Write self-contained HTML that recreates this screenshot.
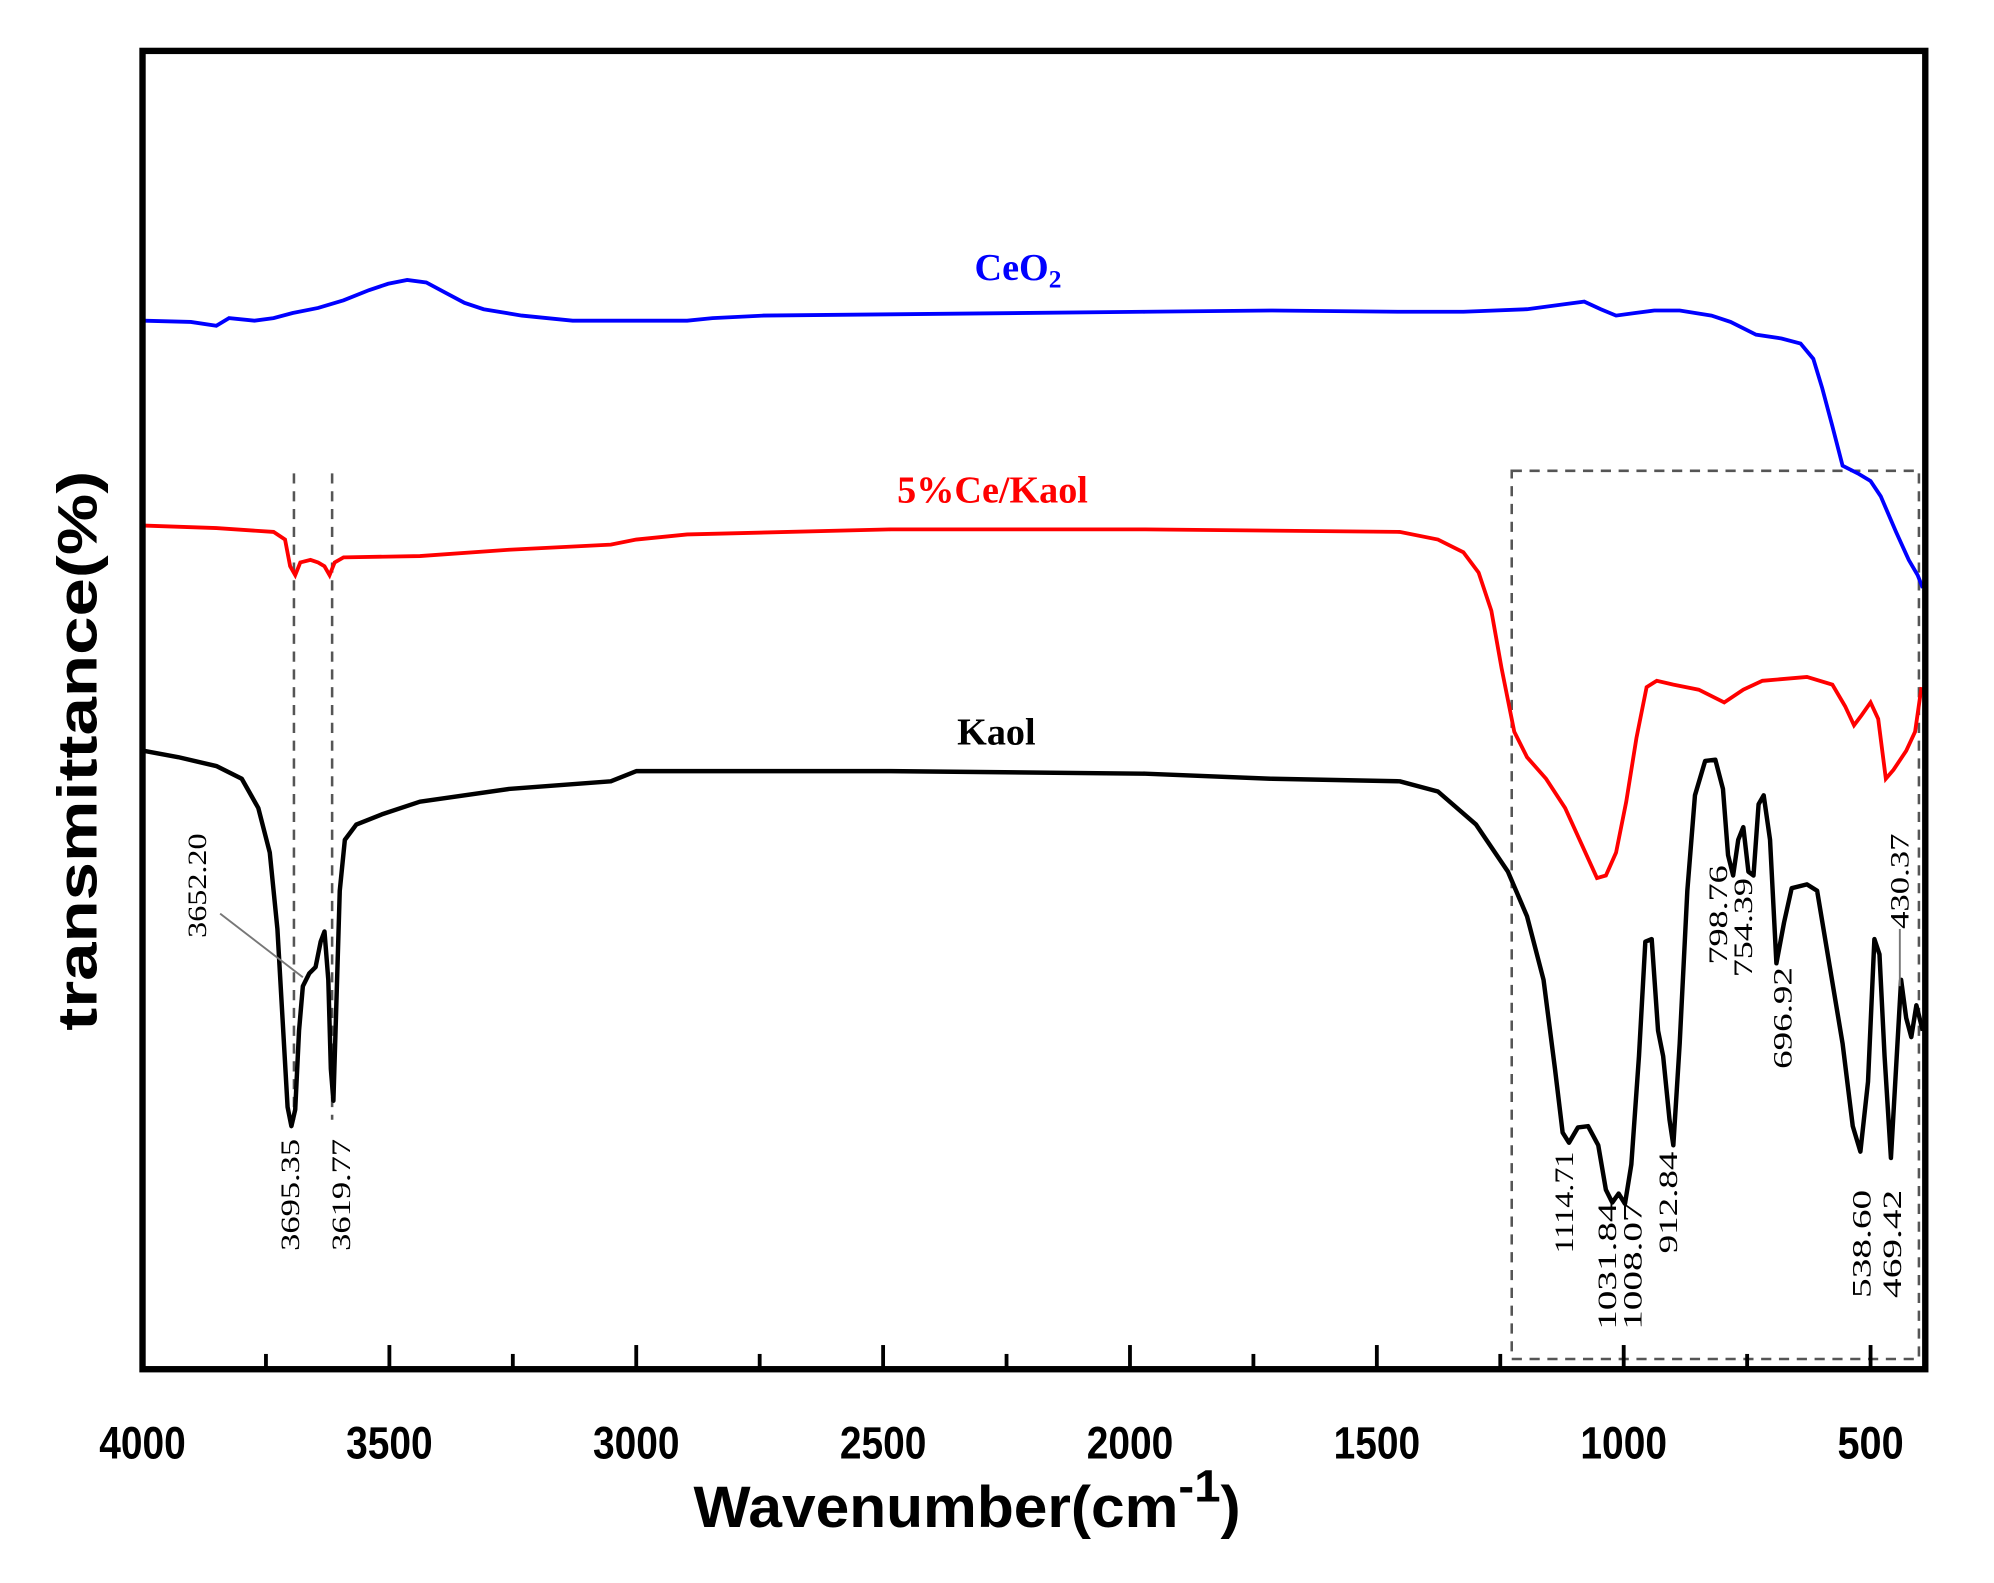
<!DOCTYPE html>
<html><head><meta charset="utf-8"><style>html,body{margin:0;padding:0;background:#fff}svg{display:block}</style></head>
<body>
<svg width="1994" height="1583" viewBox="0 0 1567 1244" preserveAspectRatio="none" xmlns="http://www.w3.org/2000/svg">
<rect width="1567" height="1244" fill="#fff"/>
<g fill="none" stroke="#555" stroke-width="2" stroke-dasharray="8,6">
<line x1="231" y1="372" x2="231" y2="880"/>
<line x1="261" y1="372" x2="261" y2="880"/>
<rect x="1188" y="370" width="320" height="698"/>
</g>
<polyline fill="none" stroke="#0000ff" stroke-width="3" points="113,252 150,253 170,256 180,250 200,252 215,250 230,246 250,242 270,236 290,228 305,223 320,220 335,222 350,230 365,238 380,243 410,248 450,252 500,252 540,252 560,250 600,248 700,247 900,245 1000,244 1100,245 1150,245 1200,243 1230,239 1245,237 1258,243 1270,248 1285,246 1300,244 1320,244 1345,248 1360,253 1380,263 1400,266 1415,270 1425,282 1432,305 1440,335 1448,366 1460,372 1470,378 1478,390 1490,418 1500,440 1507,452 1511,462"/>
<polyline fill="none" stroke="#ff0000" stroke-width="3" points="113,413 170,415 215,418 224,424 228,445 232,452 236,442 244,440 250,442 255,445 259,452 263,442 270,438 330,437 400,432 480,428 500,424 540,420 700,416 900,416 1100,418 1130,424 1150,434 1162,450 1172,480 1180,525 1190,575 1200,595 1215,612 1230,635 1245,668 1255,690 1262,688 1270,670 1278,630 1286,580 1294,540 1302,535 1315,538 1335,542 1355,552 1370,542 1385,535 1420,532 1440,538 1450,555 1457,570 1463,562 1470,552 1476,565 1482,612 1488,605 1498,590 1505,575 1510,540"/>
<polyline fill="none" stroke="#000" stroke-width="3.5" stroke-linejoin="round" points="113,590 140,595 170,602 190,612 203,635 212,670 218,730 222,800 226,870 229,885 232,872 235,810 238,775 243,765 248,760 252,740 255,732 258,770 260,840 262,865 264,800 267,700 271,660 280,648 300,640 330,630 400,620 480,614 500,606 540,606 700,606 900,608 1000,612 1100,614 1130,622 1160,648 1185,685 1200,720 1213,770 1222,840 1228,890 1233,898 1240,886 1248,885 1256,900 1262,935 1267,945 1272,938 1277,946 1282,915 1288,830 1293,740 1298,738 1303,810 1307,830 1312,880 1315,900 1320,820 1326,700 1332,625 1340,598 1348,597 1354,620 1358,672 1362,688 1366,660 1370,650 1374,685 1378,688 1382,632 1386,625 1391,660 1396,757 1402,725 1408,698 1420,695 1428,700 1438,760 1448,820 1456,885 1462,905 1468,850 1473,738 1477,750 1481,830 1486,910 1490,840 1494,770 1498,800 1502,815 1506,790 1511,810"/>
<g stroke="#000" stroke-width="3">
<line x1="209" y1="1075" x2="209" y2="1064"/><line x1="306" y1="1075" x2="306" y2="1057"/>
<line x1="403" y1="1075" x2="403" y2="1064"/><line x1="500" y1="1075" x2="500" y2="1057"/>
<line x1="597" y1="1075" x2="597" y2="1064"/><line x1="694" y1="1075" x2="694" y2="1057"/>
<line x1="791" y1="1075" x2="791" y2="1064"/><line x1="888" y1="1075" x2="888" y2="1057"/>
<line x1="985" y1="1075" x2="985" y2="1064"/><line x1="1082" y1="1075" x2="1082" y2="1057"/>
<line x1="1179" y1="1075" x2="1179" y2="1064"/><line x1="1276" y1="1075" x2="1276" y2="1057"/>
<line x1="1373" y1="1075" x2="1373" y2="1064"/><line x1="1470" y1="1075" x2="1470" y2="1057"/>
</g>
<rect x="112" y="40" width="1401" height="1036" fill="none" stroke="#000" stroke-width="5"/>
<line x1="173" y1="718" x2="238" y2="768" stroke="#777" stroke-width="1.5"/>
<line x1="1493" y1="730" x2="1493" y2="775" stroke="#777" stroke-width="1.5"/>
<g font-family="Liberation Serif, serif" font-weight="bold" font-size="30" text-anchor="middle">
<text x="800" y="220" fill="#0000ff">CeO<tspan font-size="20" dy="6">2</tspan></text>
<text x="780" y="395" fill="#ff0000">5%Ce/Kaol</text>
<text x="783" y="585" fill="#000">Kaol</text>
</g>
<g font-family="Liberation Serif, serif" font-size="21" fill="#000" text-anchor="end">
<text transform="translate(162,655) rotate(-90)" textLength="82" lengthAdjust="spacingAndGlyphs">3652.20</text>
<text transform="translate(235,895) rotate(-90)" textLength="88" lengthAdjust="spacingAndGlyphs">3695.35</text>
<text transform="translate(275,895) rotate(-90)" textLength="88" lengthAdjust="spacingAndGlyphs">3619.77</text>
<text transform="translate(1236,905) rotate(-90)" textLength="80" lengthAdjust="spacingAndGlyphs">1114.71</text>
<text transform="translate(1270,945) rotate(-90)" textLength="100" lengthAdjust="spacingAndGlyphs">1031.84</text>
<text transform="translate(1290,945) rotate(-90)" textLength="100" lengthAdjust="spacingAndGlyphs">1008.07</text>
<text transform="translate(1318,905) rotate(-90)" textLength="80" lengthAdjust="spacingAndGlyphs">912.84</text>
<text transform="translate(1357,680) rotate(-90)" textLength="78" lengthAdjust="spacingAndGlyphs">798.76</text>
<text transform="translate(1377,690) rotate(-90)" textLength="78" lengthAdjust="spacingAndGlyphs">754.39</text>
<text transform="translate(1408,760) rotate(-90)" textLength="80" lengthAdjust="spacingAndGlyphs">696.92</text>
<text transform="translate(1470,935) rotate(-90)" textLength="85" lengthAdjust="spacingAndGlyphs">538.60</text>
<text transform="translate(1494,935) rotate(-90)" textLength="85" lengthAdjust="spacingAndGlyphs">469.42</text>
<text transform="translate(1500,655) rotate(-90)" textLength="75" lengthAdjust="spacingAndGlyphs">430.37</text>
</g>
<g font-family="Liberation Sans, sans-serif" font-weight="bold" font-size="36" fill="#000" text-anchor="middle">
<text x="112" y="1146" textLength="68" lengthAdjust="spacingAndGlyphs">4000</text>
<text x="306" y="1146" textLength="68" lengthAdjust="spacingAndGlyphs">3500</text>
<text x="500" y="1146" textLength="68" lengthAdjust="spacingAndGlyphs">3000</text>
<text x="694" y="1146" textLength="68" lengthAdjust="spacingAndGlyphs">2500</text>
<text x="888" y="1146" textLength="68" lengthAdjust="spacingAndGlyphs">2000</text>
<text x="1082" y="1146" textLength="68" lengthAdjust="spacingAndGlyphs">1500</text>
<text x="1276" y="1146" textLength="68" lengthAdjust="spacingAndGlyphs">1000</text>
<text x="1470" y="1146" textLength="52" lengthAdjust="spacingAndGlyphs">500</text>
</g>
<text x="545" y="1200" font-family="Liberation Sans, sans-serif" font-weight="bold" font-size="46" fill="#000" textLength="430" lengthAdjust="spacingAndGlyphs">Wavenumber(cm<tspan dy="-20" font-size="36">-1</tspan><tspan dy="20">)</tspan></text>
<text transform="translate(76,590) rotate(-90)" font-family="Liberation Sans, sans-serif" font-weight="bold" font-size="44" fill="#000" text-anchor="middle" textLength="440" lengthAdjust="spacingAndGlyphs">transmittance(%)</text>
</svg>
</body></html>
